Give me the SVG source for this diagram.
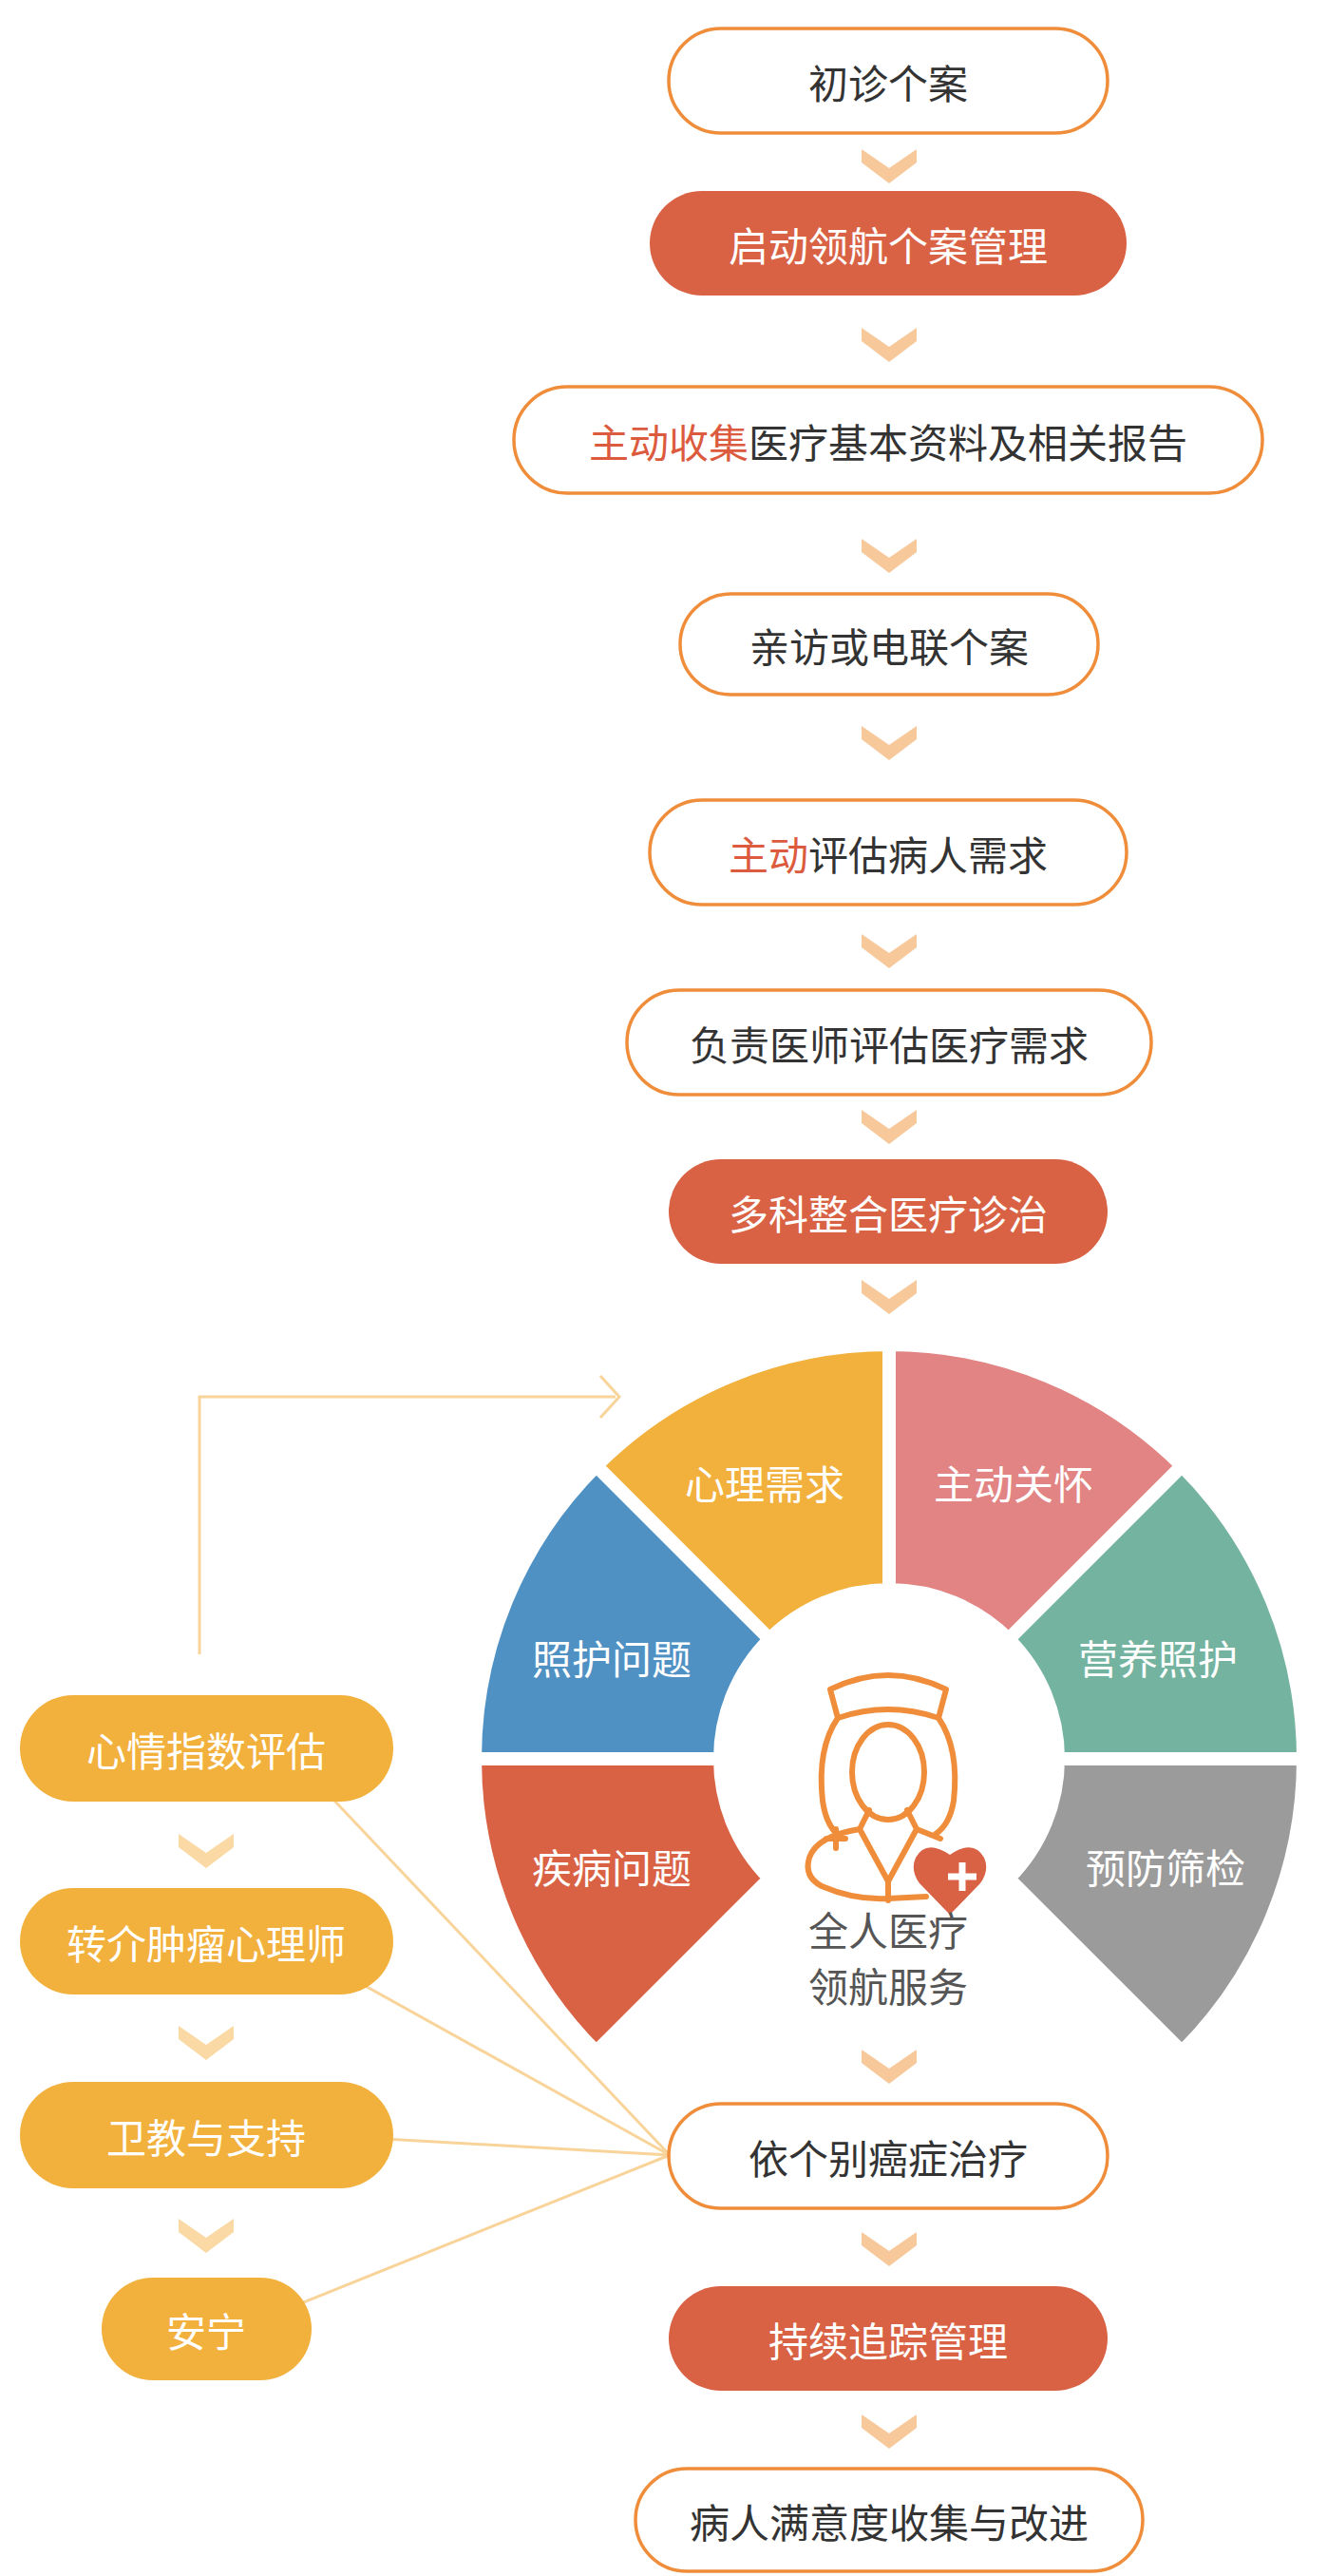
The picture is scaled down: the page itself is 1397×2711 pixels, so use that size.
<svg xmlns="http://www.w3.org/2000/svg" width="1397" height="2711" viewBox="0 0 1397 2711">
<style>
text{font-family:"Noto Sans CJK SC","Noto Sans",sans-serif;text-anchor:middle;dominant-baseline:central}
.ob{fill:#fff;stroke:#EF8D3B;stroke-width:3.5}
.rf{fill:#D96245}
.lf{fill:#F2B03C}
.dt{fill:#333;font-size:42px}
.wt{fill:#fff;font-size:42px}
.hl{fill:#DC5B3E}
.chev{fill:#F7C89A}
.lchev{fill:#FAD9A4}
.seg{stroke:#fff;stroke-width:14}
.ln{stroke:#F8D49A;stroke-width:3;fill:none}
.ic{fill:none;stroke:#EF8D3B;stroke-width:6;stroke-linejoin:round;stroke-linecap:round}
</style>
<defs>
<polygon id="chv" points="-29,0 0,20 29,0 29,14 0,36 -29,14"/>
</defs>
<g id="connectors">
<path class="ln" d="M210,1741 L210,1470 L648,1470" stroke-width="6"/>
<path class="ln" d="M632,1448 L652,1470 L632,1492" stroke-width="9"/>
<line class="ln" x1="300" y1="1840" x2="705" y2="2268"/>
<line class="ln" x1="300" y1="2043" x2="705" y2="2268"/>
<line class="ln" x1="300" y1="2245" x2="705" y2="2268"/>
<line class="ln" x1="240" y1="2455" x2="705" y2="2268"/>
<g class="chev">
<use href="#chv" x="936" y="157"/>
<use href="#chv" x="936" y="345"/>
<use href="#chv" x="936" y="567"/>
<use href="#chv" x="936" y="764"/>
<use href="#chv" x="936" y="983"/>
<use href="#chv" x="936" y="1168"/>
<use href="#chv" x="936" y="1347"/>
<use href="#chv" x="936" y="2157"/>
<use href="#chv" x="936" y="2349"/>
<use href="#chv" x="936" y="2541"/>
</g>
<g class="lchev">
<use href="#chv" x="217" y="1930"/>
<use href="#chv" x="217" y="2132"/>
<use href="#chv" x="217" y="2335"/>
</g>
</g>
<g id="n1"><rect class="ob" x="704" y="30" width="462" height="110" rx="55"/><text class="dt" x="935" y="85">初诊个案</text></g>
<g id="n2"><rect class="rf" x="684" y="201" width="502" height="110" rx="55"/><text class="wt" x="935" y="256">启动领航个案管理</text></g>
<g id="n3"><rect class="ob" x="541" y="407" width="788" height="112" rx="56"/><text class="dt" x="935" y="463" font-size="46"><tspan class="hl">主动收集</tspan>医疗基本资料及相关报告</text></g>
<g id="n4"><rect class="ob" x="716" y="625" width="440" height="106" rx="53"/><text class="dt" x="936" y="678">亲访或电联个案</text></g>
<g id="n5"><rect class="ob" x="684" y="842" width="502" height="110" rx="55"/><text class="dt" x="935" y="897"><tspan class="hl">主动</tspan>评估病人需求</text></g>
<g id="n6"><rect class="ob" x="660" y="1042" width="552" height="110" rx="55"/><text class="dt" x="936" y="1097">负责医师评估医疗需求</text></g>
<g id="n7"><rect class="rf" x="704" y="1220" width="462" height="110" rx="55"/><text class="wt" x="935" y="1275">多科整合医疗诊治</text></g>
<g id="wheel">
<path class="seg" fill="#F2B03C" d="M627.7,1542.7 A436,436 0 0 1 936,1415 L936,1673 A178,178 0 0 0 810.1,1725.1 Z"/>
<path class="seg" fill="#E18483" d="M936,1415 A436,436 0 0 1 1244.3,1542.7 L1061.9,1725.1 A178,178 0 0 0 936,1673 Z"/>
<path class="seg" fill="#73B3A0" d="M1244.3,1542.7 A436,436 0 0 1 1372,1851 L1114,1851 A178,178 0 0 0 1061.9,1725.1 Z"/>
<path class="seg" fill="#5091C4" d="M500,1851 A436,436 0 0 1 627.7,1542.7 L810.1,1725.1 A178,178 0 0 0 758,1851 Z"/>
<path class="seg" fill="#D96245" d="M758,1851 A178,178 0 0 0 810.1,1976.9 L627.7,2159.3 A436,436 0 0 1 500,1851 Z"/>
<path class="seg" fill="#9B9B9B" d="M1114,1851 L1372,1851 A436,436 0 0 1 1244.3,2159.3 L1061.9,1976.9 A178,178 0 0 0 1114,1851 Z"/>
<text class="wt" x="805" y="1559">心理需求</text>
<text class="wt" x="1067" y="1559">主动关怀</text>
<text class="wt" x="644" y="1743">照护问题</text>
<text class="wt" x="1219" y="1743">营养照护</text>
<text class="wt" x="644" y="1963">疾病问题</text>
<text class="wt" x="1227" y="1963">预防筛检</text>
</g>
<g id="center">
<path class="ic" d="M874,1778 Q935,1748 996,1778 L988,1808 Q935,1790 882,1808 Z"/>
<path class="ic" d="M882,1808 Q860,1840 866,1895 Q870,1925 888,1935"/>
<path class="ic" d="M988,1808 Q1010,1840 1004,1895 Q1000,1920 985,1930"/>
<ellipse class="ic" cx="935" cy="1865" rx="38" ry="50"/>
<path class="ic" d="M915,1905 L905,1925 L935,1980 L965,1925 L955,1905"/>
<path class="ic" d="M905,1925 Q860,1932 852,1955 Q846,1975 865,1985 Q900,2000 935,1998 L975,1996"/>
<path class="ic" d="M965,1925 L990,1935"/>
<path class="ic" d="M935,1980 L935,2000"/>
<path class="ic" d="M880,1925 l0,20 M870,1935 l20,0" stroke-width="5"/>
<path fill="#D96245" d="M1000,2015 L968,1982 Q958,1968 964,1955 Q975,1935 1000,1952 Q1025,1935 1036,1955 Q1042,1968 1032,1982 Z"/>
<path stroke="#fff" stroke-width="7" d="M1013,1960 v30 M998,1975 h30"/>
<text x="935" y="2029" font-size="42" fill="#555">全人医疗</text>
<text x="935" y="2088" font-size="42" fill="#555">领航服务</text>
</g>
<g id="n8"><rect class="ob" x="704" y="2214" width="462" height="110" rx="55"/><text class="dt" x="935" y="2269">依个别癌症治疗</text></g>
<g id="n9"><rect class="rf" x="704" y="2406" width="462" height="110" rx="55"/><text class="wt" x="935" y="2461">持续追踪管理</text></g>
<g id="n10"><rect class="ob" x="669" y="2598" width="534" height="108" rx="54"/><text class="dt" x="936" y="2652">病人满意度收集与改进</text></g>
<g id="l1"><rect class="lf" x="21" y="1784" width="393" height="112" rx="56"/><text class="wt" x="217" y="1840">心情指数评估</text></g>
<g id="l2"><rect class="lf" x="21" y="1987" width="393" height="112" rx="56"/><text class="wt" x="217" y="2043">转介肿瘤心理师</text></g>
<g id="l3"><rect class="lf" x="21" y="2191" width="393" height="112" rx="56"/><text class="wt" x="217" y="2247">卫教与支持</text></g>
<g id="l4"><rect class="lf" x="107" y="2397" width="221" height="108" rx="54"/><text class="wt" x="217" y="2451">安宁</text></g>
</svg>
